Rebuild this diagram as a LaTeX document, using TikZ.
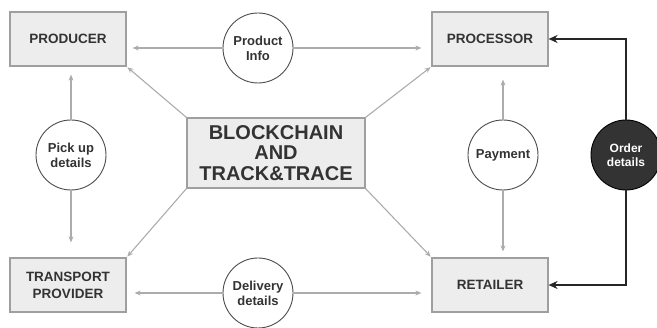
\documentclass[tikz,border=0pt]{standalone}
\usepackage{fontspec}
\setmainfont{Liberation Sans}
\usetikzlibrary{arrows.meta, positioning}

\begin{document}
\begin{tikzpicture}[x=1pt, y=-1pt,
  party/.style = {rectangle, draw=gray!75, line width=1.2pt, fill=gray!14, minimum width=116pt, minimum height=54pt, align=center, font=\fontsize{13.5}{17}\selectfont\bfseries, text=black!80},
  info/.style = {circle, draw=black!70, line width=0.9pt, fill=white, minimum size=70pt, inner sep=0pt, align=center, font=\fontsize{13}{15}\selectfont\bfseries, text=black!80},
  order/.style = {info, fill=black!80, draw=black, text=white!90, font=\fontsize{12}{14}\selectfont\bfseries},
  hub/.style = {rectangle, draw=gray!75, line width=1.2pt, fill=gray!14, minimum width=178pt, minimum height=70pt, align=center, font=\fontsize{20}{20.5}\selectfont\bfseries, text=black!80},
  link/.style = {draw=gray!65, line width=1.1pt, -{Stealth[length=6pt,width=5pt]}},
  feed/.style = {draw=black!85, line width=2pt, -{Stealth[length=9pt,width=8pt]}}
]
\useasboundingbox (0,0) rectangle (657,328);

% parties of the chain
\node[party] (producer) at (68, 39) {PRODUCER};
\node[party] (processor) at (490, 39) {PROCESSOR};
\node[party] (transport) at (68, 285) {TRANSPORT\\PROVIDER};
\node[party] (retailer) at (490, 285) {RETAILER};

\node[hub] (chain) at (276, 153) {BLOCKCHAIN\\AND\\TRACK\&TRACE};

% data exchanged between parties
\node[info] (prodinfo) at (258, 48) {Product\\Info};
\node[info] (pickup) at (71, 155) {Pick up\\details};
\node[info] (payment) at (503, 155) {Payment};
\node[info] (delivery) at (258, 293) {Delivery\\details};
\node[order] (orderdet) at (626, 155) {Order\\details};

% hub to parties
\draw[link, shorten >=1pt] (chain.north west) -- (producer.south east);
\draw[link, shorten >=1pt] (chain.north east) -- (processor.south west);
\draw[link, shorten >=1pt] (chain.south west) -- (transport.north east);
\draw[link, shorten >=1pt] (chain.south east) -- (retailer.north west);

% info flows
\draw[link, shorten >=6pt] (prodinfo.west) -- (producer.east |- prodinfo.west);
\draw[link, shorten >=10pt] (prodinfo.east) -- (processor.west |- prodinfo.east);
\draw[link, shorten >=8pt] (delivery.west) -- (transport.east |- delivery.west);
\draw[link, shorten >=10pt] (delivery.east) -- (retailer.west |- delivery.east);
\draw[link, shorten >=8pt] (pickup.north) -- (producer.south -| pickup.north);
\draw[link, shorten >=15pt] (pickup.south) -- (transport.north -| pickup.south);
\draw[link, shorten >=13pt] (payment.north) -- (processor.south -| payment.north);
\draw[link, shorten >=6pt] (payment.south) -- (retailer.north -| payment.south);

% orders
\draw[feed] (orderdet.north) |- (processor.east);
\draw[feed] (orderdet.south) |- (retailer.east);
\end{tikzpicture}
\end{document}
